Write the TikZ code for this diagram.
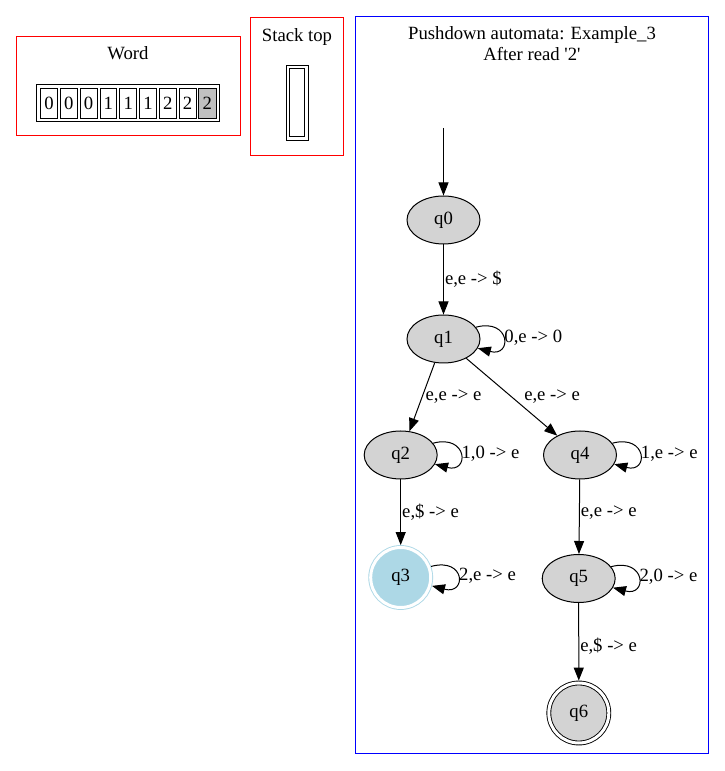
\documentclass[tikz,border=0pt]{standalone}
\usepackage{fontspec}
\setmainfont{Liberation Serif}[Ligatures=TeXOff]
\usetikzlibrary{shapes.geometric,arrows.meta}
\definecolor{stategray}{HTML}{D3D3D3}
\definecolor{acceptblue}{HTML}{ADD8E6}
\definecolor{cellgray}{HTML}{C0C0C0}

\begin{document}
\begin{tikzpicture}[x=1pt,y=1pt,
  font=\fontsize{18.7}{21}\selectfont,
  stnode/.style={ellipse, draw, line width=1pt, fill=stategray, minimum width=73pt, minimum height=48pt, inner sep=0pt},
  accnode/.style={circle, draw, line width=0.9pt, double=white, double distance=3pt, fill=stategray, minimum size=60pt, inner sep=0pt, outer sep=2.4pt},
  arr/.style={line width=1pt, -{Triangle[length=13pt,width=10pt]}},
  lbl/.style={inner sep=1pt},
  cell/.style={draw, line width=0.9pt, minimum width=16.7pt, minimum height=30pt, inner sep=0pt},
  frame/.style={line width=1pt}]
\fill[white] (0,0) rectangle (724,771);
\useasboundingbox (0,0) rectangle (724,771);

% Word
\draw[frame, red] (16,635) rectangle (240,734);
\node (wordtitle) at (128,717.5) {Word};
\node[cell, minimum width=182.6pt, minimum height=37.4pt] (wordtab) at (128,668) {};
\foreach \c [count=\i from 0] in {0,0,0,1,1,1,2,2}
  \node[cell] (cell\i) at (49+19.8*\i,668) {\c};
\node[cell, fill=cellgray, minimum width=18.3pt] (cell8) at (207.4,668) {2};

% Stack top
\draw[frame, red] (250.5,615) rectangle (343.5,753);
\node (stacktitle) at (297,733.5) {Stack top};
\node[cell, minimum width=22pt, minimum height=75pt] (stackout) at (297,668.5) {};
\node[cell, minimum width=15.7pt, minimum height=67.7pt] (stackin) at (297,668.5) {};

% Automaton
\draw[frame, blue] (355,17) rectangle (708,754);
\node[align=center] (pdatitle) at (532,727.5) {Pushdown automata: Example\_3\\After read '2'};

\coordinate (start) at (443.5,643);
\node[stnode] (q0) at (443.5,551) {q0};
\node[stnode] (q1) at (443.5,432) {q1};
\node[stnode] (q2) at (400.7,316) {q2};
\node[stnode] (q4) at (580,316) {q4};
\node[accnode, draw=acceptblue, fill=acceptblue] (q3) at (400.7,193.5) {q3};
\node[stnode] (q5) at (578.7,192.5) {q5};
\node[accnode] (q6) at (578.8,58) {q6};

\draw[arr] (start) -- (q0);
\draw[arr] (q0) -- node[right,lbl] {e,e -> \$} (q1);
\draw[arr] (q1) -- node[right,inner sep=3pt] {e,e -> e} (q2);
\draw[arr] (q1) -- node[right=12pt,inner sep=0pt] {e,e -> e} (q4);
\draw[arr] (q2) -- node[right,lbl] {e,\$ -> e} (q3);
\draw[arr] (q4) -- node[right,lbl,pos=.45] {e,e -> e} (q5);
\draw[arr] (q5) -- node[right,lbl,pos=.56] {e,\$ -> e} (q6);

% Self loops
\draw[arr] (q1.20) to[out=15,in=-15,distance=36pt] node[right,lbl] {0,e -> 0} (q1.-15);
\draw[arr] (q2.20) to[out=15,in=-15,distance=36pt] node[right,lbl] {1,0 -> e} (q2.-15);
\draw[arr] (q4.20) to[out=15,in=-15,distance=36pt] node[right,lbl] {1,e -> e} (q4.-15);
\draw[arr] (q3.20) to[out=15,in=-15,distance=36pt] node[right,lbl] {2,e -> e} (q3.-15);
\draw[arr] (q5.20) to[out=15,in=-15,distance=36pt] node[right,lbl] {2,0 -> e} (q5.-15);
\end{tikzpicture}
\end{document}
